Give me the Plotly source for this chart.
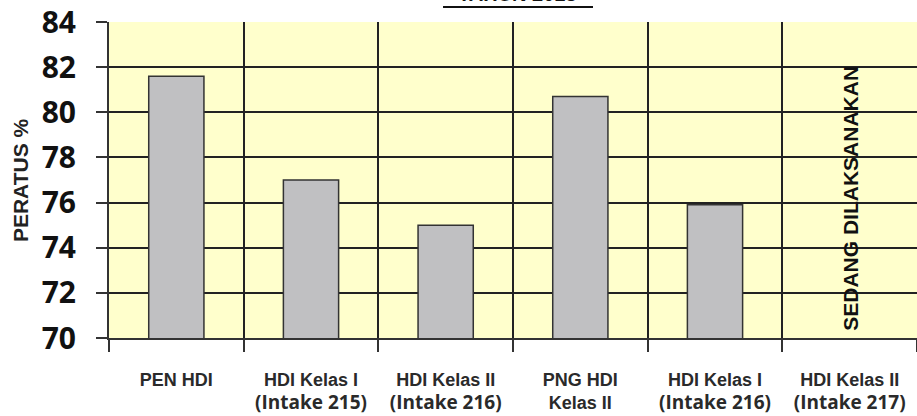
import plotly.graph_objects as go

line2_style = "font-family:'Open Sans';font-size:19px"
categories = [
    "PEN HDI",
    "HDI Kelas I<br><span style=\"" + line2_style + "\">(Intake 215)</span>",
    "HDI Kelas II<br><span style=\"" + line2_style + "\">(Intake 216)</span>",
    "PNG HDI<br>Kelas II",
    "HDI Kelas I<br><span style=\"" + line2_style + "\">(Intake 216)</span>",
    "HDI Kelas II<br><span style=\"" + line2_style + "\">(Intake 217)</span>",
]
values = [81.6, 77.0, 75.0, 80.7, 75.9, None]
y_ticks = [70, 72, 74, 76, 78, 80, 82, 84]
title_text = "TAHUN 2013"
y_title = "PERATUS %"
note_text = "SEDANG DILAKSANAKAN"
note_category = categories[5]
note_y = 76.2

fig = go.Figure()
fig.add_trace(go.Bar(
    x=categories, y=values, width=0.41,
    marker=dict(color="#C0C0C2", line=dict(color="#333333", width=1.5)),
    showlegend=False,
))

fig.update_layout(
    width=917, height=416,
    margin=dict(l=109, r=0, t=22, b=78),
    paper_bgcolor="white",
    plot_bgcolor="#FFFFCC",
    xaxis=dict(
        type="category", automargin=False,
        tickson="boundaries",
        showgrid=True, gridcolor="#222222", gridwidth=2,
        ticks="outside", ticklen=12, tickcolor="#333333", tickwidth=2,
        showline=True, linecolor="#333333", linewidth=2,
        tickfont=dict(family="Liberation Sans, Arial", size=18, color="#2a2a2a", weight="bold"),
        ticklabelstandoff=24,
        range=[-0.5, 5.5],
    ),
    yaxis=dict(
        range=[70, 84], tickvals=y_ticks, automargin=False,
        showgrid=True, gridcolor="#222222", gridwidth=2,
        ticks="outside", ticklen=11, tickcolor="#333333", tickwidth=2,
        showline=True, linecolor="#333333", linewidth=2,
        tickfont=dict(family="Open Sans", size=30, color="#111111", weight="bold"),
        ticklabelstandoff=14,
        zeroline=False,
    ),
)

fig.add_annotation(
    xref="paper", yref="paper", x=-0.110, y=0.5,
    text="<b>" + y_title + "</b>", textangle=-90, showarrow=False,
    font=dict(family="Liberation Sans, Arial", size=21, color="#222222"),
    xanchor="center", yanchor="middle",
)
fig.add_annotation(
    x=note_category, y=note_y, text="<b>" + note_text + "</b>", textangle=-90, showarrow=False,
    font=dict(family="Liberation Sans, Arial", size=21, color="#111111"),
    xanchor="center", yanchor="middle",
)
fig.add_annotation(
    xref="paper", yref="paper", x=0.506, y=1.047,
    text="<b>" + title_text + "</b>", showarrow=False,
    font=dict(family="Liberation Sans, Arial", size=20, color="#111111"),
    xanchor="center", yanchor="bottom",
)
fig.add_shape(
    type="line", xref="paper", yref="paper",
    x0=0.4134, x1=0.599, y0=1.0475, y1=1.0475,
    line=dict(color="#111111", width=2),
)

fig.write_html(
    "out.html",
    config={"displayModeBar": False},
    post_script="document.body.style.margin='0';document.body.style.overflow='hidden';",
)
